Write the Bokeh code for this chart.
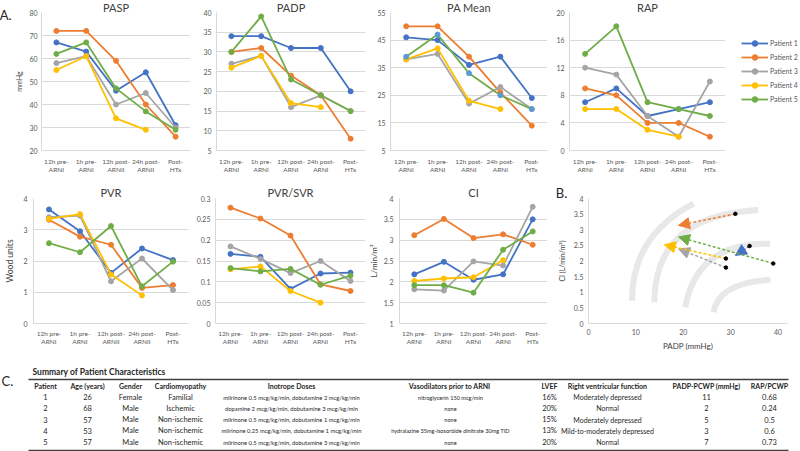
import math
from bokeh.plotting import figure
from bokeh.models import (ColumnDataSource, Range1d, FactorRange, FixedTicker, Label,
                          Legend, LegendItem, Arrow, NormalHead, CustomJSTickFormatter)
from bokeh.layouts import row, column
from bokeh.embed import file_html
from bokeh.resources import INLINE
from bokeh.core.properties import value

NaN = float("nan")
FONT = "Lato"

# ---------------- data ----------------
timepoints = ["12h pre-\nARNI", "1h pre-\nARNI", "12h post-\nARNI", "24h post-\nARNI", "Post-\nHTx"]
timepoints_alt = ["12h pre-\nARNI", "1h pre-\nARNI", "12h post-\nARNII", "24h post-\nARNII", "Post-\nHTx"]
patients = ["Patient 1", "Patient 2", "Patient 3", "Patient 4", "Patient 5"]
colors = ["#4472C4", "#ED7D31", "#A5A5A5", "#FFC000", "#70AD47"]
pa_mean_marker_colors = ["#4472C4", "#ED7D31", "#A5A5A5", "#FFC000", "#5B9BD5"]

pasp = [[67, 63, 46, 54, 31], [72, 72, 59, 40, 26], [58, 61, 40, 45, 30],
        [55, 61, 34, 29, NaN], [62, 67, 47, 37, 29]]
padp = [[34, 34, 31, 31, 20], [30, 31, 24, 19, 8], [27, 29, 16, 19, 15],
        [26, 29, 17, 16, NaN], [30, 39, 23, 19, 15]]
pa_mean = [[46, 45, 36, 39, 24], [50, 50, 39, 26, 14], [38, 40, 22, 28, 20],
           [38, 42, 23, 20, NaN], [39, 47, 33, 25, 20]]
rap = [[7, 9, 5, 6, 7], [9, 8, 4, 4, 2], [12, 11, 5, 2, 10],
       [6, 6, 3, 2, NaN], [14, 18, 7, 6, 5]]
pvr = [[3.65, 2.95, 1.62, 2.40, 2.03], [3.32, 2.78, 2.52, 1.14, 1.23], [3.40, 3.45, 1.35, 2.08, 1.07],
       [3.35, 3.50, 1.57, 0.90, NaN], [2.57, 2.28, 3.12, 1.19, 1.98]]
pvr_svr = [[0.167, 0.160, 0.083, 0.120, 0.122], [0.278, 0.252, 0.211, 0.094, 0.078],
           [0.185, 0.155, 0.121, 0.150, 0.102], [0.130, 0.137, 0.078, 0.050, NaN],
           [0.133, 0.125, 0.131, 0.093, 0.115]]
ci = [[2.18, 2.48, 2.05, 2.18, 3.50], [3.12, 3.51, 3.05, 3.14, 2.89], [1.82, 1.79, 2.49, 2.39, 3.80],
      [2.02, 2.08, 2.11, 2.52, NaN], [1.92, 1.92, 1.74, 2.77, 3.21]]

# panel B: arrows from 1h pre-ARNI to 24h post-ARNI
b_start_idx = 1
b_end_idx = 3
# decorative background arcs (data units: PADP, CI)
arc_x0 = [9.2, 13.9, 20.4, 26.4]
arc_y0 = [0.73, 0.68, 0.52, 0.36]
arc_x1 = [22.2, 35.8, 38.3, 38.4]
arc_y1 = [3.84, 3.63, 2.55, 1.40]
arc_cx = [9.1, 13.95, 22.85, 27.4]
arc_cy = [2.80, 3.45, 2.60, 1.30]

# table
tbl_title = "Summary of Patient Characteristics"
tbl_headers = ["Patient", "Age (years)", "Gender", "Cardiomyopathy", "Inotrope Doses",
               "Vasodilators  prior to ARNI", "LVEF", "Right ventricular function",
               "PADP-PCWP (mmHg)", "RAP/PCWP"]
tbl_patient = ["1", "2", "3", "4", "5"]
tbl_age = ["26", "68", "57", "53", "57"]
tbl_gender = ["Female", "Male", "Male", "Male", "Male"]
tbl_cardio = ["Familial", "Ischemic", "Non-ischemic", "Non-ischemic", "Non-ischemic"]
tbl_inotrope = ["milrinone 0.5 mcg/kg/min, dobutamine 2 mcg/kg/min",
                "dopamine 2 mcg/kg/min, dobutamine 3 mcg/kg/min",
                "milrinone 0.5 mcg/kg/min, dobutamine 1 mcg/kg/min",
                "milrinone 0.25 mcg/kg/min, dobutamine 1 mcg/kg/min",
                "milrinone 0.5 mcg/kg/min, dobutamine 3 mcg/kg/min"]
tbl_vaso = ["nitroglycerin 150 mcg/min", "none", "none",
            "hydralazine 35mg-isosorbide dinitrate 30mg TID", "none"]
tbl_lvef = ["16%", "20%", "15%", "13%", "20%"]
tbl_rv = ["Moderately depressed", "Normal", "Moderately depressed",
          "Mild-to-moderately depressed", "Normal"]
tbl_padp_pcwp = ["11", "2", "5", "3", "7"]
tbl_rap_pcwp = ["0.68", "0.24", "0.5", "0.6", "0.73"]

# ---------------- styling helpers ----------------
TICK_COLOR = "#595959"
GRID_COLOR = "#d9d9d9"
TEXT_DARK = "#262626"


def tick_list(lo, hi, step):
    n = int(round((hi - lo) / step))
    return [round(lo + k * step, 6) for k in range(n + 1)]


def base_style(p, ytick_standoff=6, xtick_standoff=7):
    p.outline_line_color = None
    p.xgrid.visible = False
    p.ygrid.grid_line_color = GRID_COLOR
    p.ygrid.grid_line_width = 1
    for ax in p.axis:
        ax.major_tick_line_color = None
        ax.minor_tick_line_color = None
        ax.major_tick_out = 0
        ax.major_tick_in = 0
        ax.minor_tick_out = 0
        ax.minor_tick_in = 0
        ax.axis_line_color = GRID_COLOR
        ax.major_label_text_font = FONT
        ax.major_label_text_color = TICK_COLOR
        ax.major_label_text_font_size = "7px"
        ax.axis_label_text_font = FONT
        ax.axis_label_text_font_style = "normal"
        ax.axis_label_text_color = "#404040"
    p.yaxis.major_label_standoff = ytick_standoff
    p.xaxis.major_label_standoff = xtick_standoff
    p.xaxis.major_label_text_font_size = "6.5px"


def line_panel(data, factors, ymin, ymax, step, title, width, height, left, right, top,
               frame_h, ytick_standoff, xtick_standoff, title_standoff, ylabel=None,
               ylabel_size="8px", ylabel_standoff=5, marker_colors=None):
    if marker_colors is None:
        marker_colors = colors
    p = figure(width=width, height=height, x_range=FactorRange(factors=factors),
               y_range=Range1d(ymin, ymax), output_backend="svg", toolbar_location=None,
               min_border_left=left, min_border_right=right, min_border_top=top,
               min_border_bottom=height - top - frame_h)
    base_style(p, ytick_standoff, xtick_standoff)
    p.yaxis.ticker = FixedTicker(ticks=tick_list(ymin, ymax, step))
    p.yaxis.formatter = CustomJSTickFormatter(code="return String(Math.round(tick*1000)/1000);")
    if ylabel:
        p.yaxis.axis_label = ylabel
        p.yaxis.axis_label_text_font_size = ylabel_size
        p.yaxis.axis_label_standoff = ylabel_standoff
    rends = []
    for i in range(len(data)):
        src = ColumnDataSource(dict(x=factors, y=data[i]))
        l = p.line("x", "y", source=src, line_color=colors[i], line_width=1.8)
        s = p.scatter("x", "y", source=src, size=5, marker="circle",
                      fill_color=marker_colors[i], line_color=marker_colors[i])
        rends.append((l, s))
    p.title.text = title
    p.title.align = "center"
    p.title.text_font = FONT
    p.title.text_font_size = "11px"
    p.title.text_font_style = "normal"
    p.title.text_color = "#404040"
    p.title.standoff = title_standoff
    return p, rends


# ---------------- top row ----------------
TOP_H = 180
f1, _ = line_panel(pasp, timepoints_alt, 20, 80, 10, "PASP", 200, TOP_H, 37, 10, 12, 138, 4, 7, -3,
                   ylabel="mmHg", ylabel_size="7px", ylabel_standoff=3)
f1.add_layout(Label(x=-1.4, y=78.7, text="A.", text_align="left",
                    text_baseline="middle", text_font=FONT, text_font_size="13px",
                    text_color=TEXT_DARK), "left")
f2, _ = line_panel(padp, timepoints, 5, 40, 5, "PADP", 168, TOP_H, 13, 3, 12, 138, 5, 7, -3)
f3, _ = line_panel(pa_mean, timepoints, 5, 55, 10, "PA Mean", 185, TOP_H, 22, 6, 12, 138, 5, 7, -3,
                   marker_colors=pa_mean_marker_colors)
f4, rap_rends = line_panel(rap, timepoints, 0, 20, 4, "RAP", 172, TOP_H, 15, 0, 12, 138, 5, 7, -3)

# legend lives in its own small figure to the right of RAP
lg = figure(width=75, height=TOP_H, x_range=Range1d(0, 1), y_range=Range1d(0, 1),
            output_backend="svg", toolbar_location=None, min_border=0)
lg.axis.visible = False
lg.grid.visible = False
lg.outline_line_color = None
leg_items = []
for i in range(5):
    lr = lg.line(x=[NaN], y=[NaN], line_color=colors[i], line_width=1.8)
    sr = lg.scatter(x=[NaN], y=[NaN], size=5, marker="circle", fill_color=colors[i], line_color=colors[i])
    leg_items.append(LegendItem(label=patients[i], renderers=[lr, sr]))
legend = Legend(items=leg_items, location=(16, 44), orientation="vertical", padding=0, margin=0,
                spacing=0, glyph_width=27, glyph_height=14, label_height=14, label_standoff=2,
                label_text_font=FONT, label_text_font_size="7px", label_text_color=TICK_COLOR,
                border_line_color=None, background_fill_alpha=0)
lg.add_layout(legend)

# ---------------- bottom row ----------------
BOT_H = 182
g1, _ = line_panel(pvr, timepoints_alt, 0, 4, 1, "PVR", 193, BOT_H, 33, 5, 15, 128, 6, 6, 0,
                   ylabel="Wood units", ylabel_size="8.5px")
g2, _ = line_panel(pvr_svr, timepoints, 0, 0.3, 0.05, "PVR/SVR", 172, BOT_H, 20, 0, 15, 128, 5, 6, 0)
g3, _ = line_panel(ci, timepoints, 1, 4, 0.5, "CI", 182, BOT_H, 28, 0, 15, 128, 6, 6, 0,
                   ylabel="L/min/m²", ylabel_size="8px", ylabel_standoff=2)

g4 = figure(width=253, height=BOT_H, x_range=Range1d(0, 42), y_range=Range1d(0, 4),
            output_backend="svg", toolbar_location=None, min_border_left=41, min_border_right=13,
            min_border_top=18, min_border_bottom=BOT_H - 18 - 127)
base_style(g4, 5, 5)
g4.xaxis.major_label_text_font_size = "7px"
g4.ygrid.visible = False
g4.xaxis.ticker = FixedTicker(ticks=tick_list(0, 40, 10))
g4.yaxis.ticker = FixedTicker(ticks=tick_list(0, 4, 0.5))
g4.yaxis.formatter = CustomJSTickFormatter(code="return String(Math.round(tick*1000)/1000);")
g4.xaxis.axis_label = "PADP (mmHg)"
g4.xaxis.axis_label_text_font_size = "8px"
g4.xaxis.axis_label_standoff = 3
g4.yaxis.axis_label = "CI (L/min/m²)"
g4.yaxis.axis_label_text_font_size = "7px"
g4.yaxis.axis_label_standoff = 5
g4.quadratic(x0=arc_x0, y0=arc_y0, x1=arc_x1, y1=arc_y1, cx=arc_cx, cy=arc_cy,
             line_color="#e8e8e8", line_width=6, line_cap="butt")
for i in range(5):
    g4.add_layout(Arrow(end=NormalHead(size=11, fill_color=colors[i], line_color=colors[i]),
                        x_start=padp[i][b_start_idx], y_start=ci[i][b_start_idx],
                        x_end=padp[i][b_end_idx], y_end=ci[i][b_end_idx],
                        line_color=colors[i], line_width=1.5, line_dash="3 2"))
g4.scatter(x=[padp[i][b_start_idx] for i in range(5)], y=[ci[i][b_start_idx] for i in range(5)],
           size=3.5, color="black", level="overlay")
g4.add_layout(Label(x=-6.9, y=4.19, text="B.", text_align="left",
                    text_baseline="middle", text_font=FONT, text_font_size="13px",
                    text_color=TEXT_DARK), "above")

# ---------------- table (C) ----------------
TBL_TOP, TBL_BOTTOM = 362, 451
t = figure(width=800, height=TBL_BOTTOM - TBL_TOP, x_range=Range1d(0, 800),
           y_range=Range1d(TBL_BOTTOM, TBL_TOP), output_backend="svg", toolbar_location=None,
           min_border=0)
t.axis.visible = False
t.grid.visible = False
t.outline_line_color = None

col_x = [45, 87, 130, 180, 291, 450, 549, 607, 706, 769]
header_y = 385
row_y0, row_dy = 396.5, 11.3
row_y = [row_y0 + i * row_dy for i in range(5)]
rule_x0, rule_x1 = 28, 788
rule_y = [379, 450]

t.segment(x0=[rule_x0] * 2, y0=rule_y, x1=[rule_x1] * 2, y1=rule_y, line_color="#404040", line_width=1.5)
t.text(x=[1], y=[380], text=["C."], text_font=value(FONT), text_font_size=value("13px"),
       text_align="left", text_baseline="middle", text_color=TEXT_DARK)
t.text(x=[32], y=[371], text=[tbl_title], text_font=value(FONT), text_font_size=value("8.5px"),
       text_font_style="bold", text_align="left", text_baseline="middle", text_color=TEXT_DARK)
t.text(x=col_x, y=[header_y] * len(col_x), text=tbl_headers, text_font=value(FONT),
       text_font_size=value("7px"), text_font_style="bold", text_align="center",
       text_baseline="middle", text_color=TEXT_DARK)
columns = [tbl_patient, tbl_age, tbl_gender, tbl_cardio, tbl_inotrope, tbl_vaso,
           tbl_lvef, tbl_rv, tbl_padp_pcwp, tbl_rap_pcwp]
col_sizes = ["7.5px", "7.5px", "7.5px", "7.5px", "5.8px", "5.6px", "7.5px", "7px", "7.5px", "7.5px"]
for cx, vals, fs in zip(col_x, columns, col_sizes):
    t.text(x=[cx] * len(vals), y=row_y, text=vals, text_font=value(FONT),
           text_font_size=value(fs), text_align="center", text_baseline="middle",
           text_color=TEXT_DARK)

layout = column(row(f1, f2, f3, f4, lg, spacing=0), row(g1, g2, g3, g4, spacing=0), t, spacing=0)

open("out.html", "w").write(file_html(layout, INLINE))
